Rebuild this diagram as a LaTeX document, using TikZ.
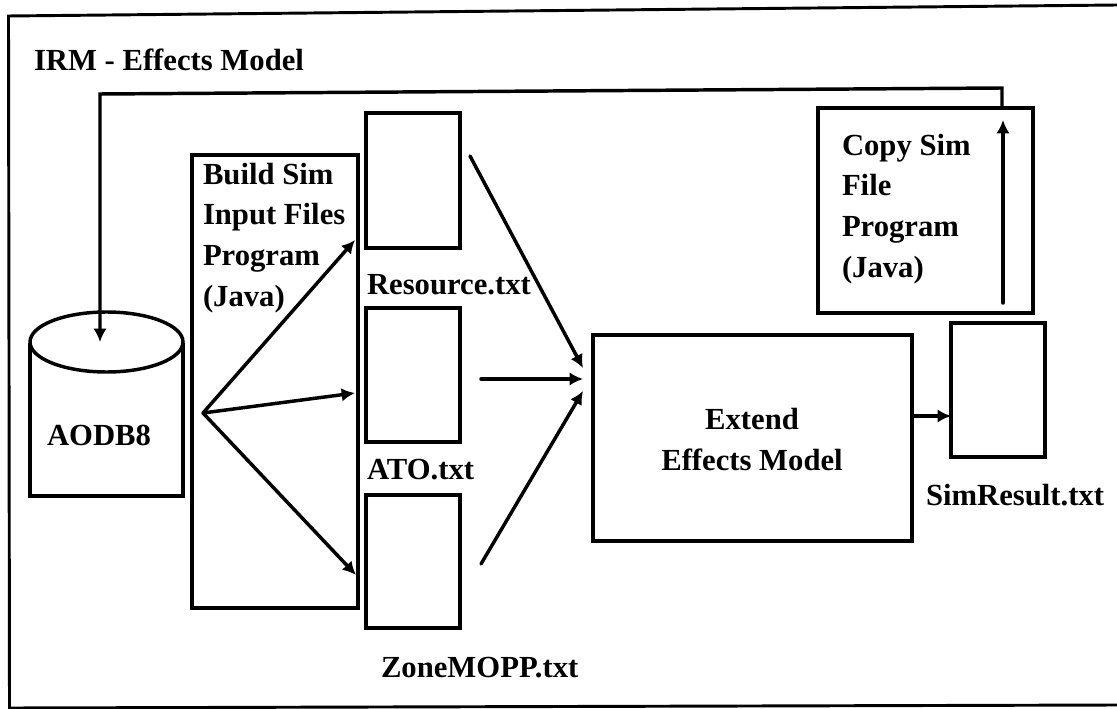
\documentclass[tikz,border=0pt]{standalone}
\usepackage{fontspec}
\setmainfont{Liberation Serif}
\usetikzlibrary{arrows.meta}
\tikzset{
 box/.style={draw=black,line width=2.6pt,inner sep=0pt,outer sep=0pt,anchor=north west},
 conn/.style={draw=black,line width=2.6pt,line cap=round,-{Latex[length=10pt,width=10pt]}},
 lbl/.style={font=\bfseries\fontsize{23pt}{30.4pt}\selectfont,inner sep=0pt,outer sep=0pt,anchor=base west,align=left},
}
\newcommand{\bx}[5]{\node[box,minimum width={(#4-#2)*0.75pt},minimum height={(#5-#3)*0.75pt}] (#1) at (#2,#3) {};}
\begin{document}
\begin{tikzpicture}[x=0.75pt,y=-0.75pt]
\useasboundingbox (0,0) rectangle (1117,709);
% outer frame (slightly skewed, open on the right as in the scan)
\draw[line width=2.2pt] (1117,5) -- (8.5,16) -- (9.5,709);
\draw[line width=2.2pt] (9.5,708) -- (1117,705);
\node[lbl] (title) at (34,71) {IRM - Effects Model};
\bx{build}{192}{155}{358}{608}
\bx{res}{366}{113}{460}{248}
\bx{ato}{366}{308}{460}{442}
\bx{zone}{366}{495}{460}{628}
\bx{ext}{593}{335}{912}{541}
\bx{copy}{818}{108}{1033}{313}
\bx{sim}{951}{323}{1045}{457}
% cylinder
\draw[line width=2.6pt] (30,343) -- (30,496) -- (183,496) -- (183,343);
\draw[line width=2.6pt] (106.5,342) ellipse [x radius=76.5,y radius=30];
\node[lbl] (aodb) at (47,445) {AODB8};
\coordinate (aodbtop) at (100,342);
\coordinate (fan) at (203,413);
\coordinate (copyexit) at (1002,108);
\coordinate (copyin) at (1003,303);
\coordinate (copytip) at (1003,120);
\coordinate (toptail) at (1002,88);
\coordinate (topleft) at (100,94);
\coordinate (fa) at (355,240);
\coordinate (fb) at (355,393);
\coordinate (fc) at (356,575);
\coordinate (ra) at (470,156);
\coordinate (rb) at (583,368);
\coordinate (aa) at (481,379);
\coordinate (ab) at (583,379);
\coordinate (za) at (481,564);
\coordinate (zb) at (583,391);
\coordinate (ea) at (912,416);
\coordinate (eb) at (951,416);
% labels
\node[lbl] (buildl) at (203,306) {Build Sim\\Input Files\\Program\\(Java)};
\node[lbl] (copyl) at (842,277) {Copy Sim\\File\\Program\\(Java)};
\node[lbl] (resl) at (367,295) {Resource.txt};
\node[lbl] (atol) at (367,479) {ATO.txt};
\node[lbl] (zonel) at (381,677) {ZoneMOPP.txt};
\node[lbl] (siml) at (926,505) {SimResult.txt};
\node[lbl,align=center,anchor=base] (extl) at (752,470) {Extend\\Effects Model};
% connectors
\draw[conn] (copyexit) -- (toptail) -- (topleft) -- (aodbtop);
\draw[conn] (copyin) -- (copytip);
\draw[conn] (fan) -- (fa);
\draw[conn] (fan) -- (fb);
\draw[conn] (fan) -- (fc);
\draw[conn] (ra) -- (rb);
\draw[conn] (aa) -- (ab);
\draw[conn] (za) -- (zb);
\draw[conn] (ea) -- (eb);
\end{tikzpicture}
\end{document}
